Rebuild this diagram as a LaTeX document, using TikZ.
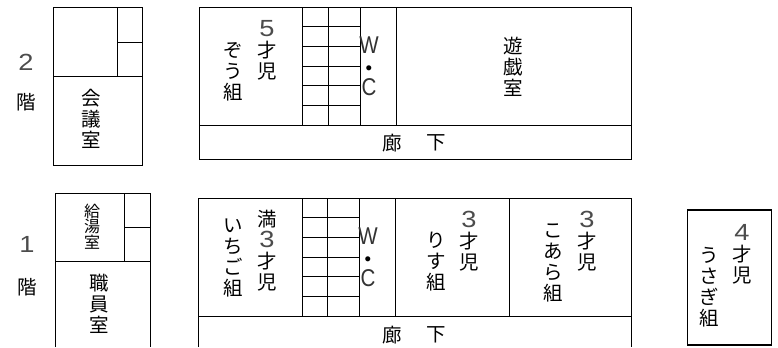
\documentclass[tikz,border=0pt]{standalone}
\usepackage{fontspec}
\setmainfont{Liberation Sans}
\newfontfamily\jpfont{Noto Sans CJK JP}
\usepackage{xcolor}
\newcommand{\widedigit}[1]{\textcolor{black!70}{\scalebox{1.4}[1.2]{\rmfamily #1}}}
\newcommand{\tallchar}[1]{\textcolor{black!80}{\scalebox{1.1}[1.3]{#1}}}
\tikzset{wall/.style = {line width=0.75pt}}
\tikzset{room/.style = {align=center,inner sep=0pt,font=\jpfont\fontsize{14.6}{15.8}\selectfont}}
\tikzset{smallroom/.style = {align=center,inner sep=0pt,font=\jpfont\fontsize{12}{11.8}\selectfont}}
\tikzset{wc/.style = {align=center,inner sep=0pt,font=\fontsize{14}{15.8}\selectfont}}

\begin{document}
\begin{tikzpicture}[x=0.75pt,y=-0.75pt]
            \useasboundingbox (0,0) rectangle (778,347);

            % 2nd floor
            \draw[wall] (53.5,7.5) rectangle (142.5,165.5);
            \draw[wall] (53.5,76.5) -- (142.5,76.5);
            \draw[wall] (117.5,7.5) -- (117.5,76.5);
            \draw[wall] (117.5,42.5) -- (142.5,42.5);

            \draw[wall] (199.5,7.5) rectangle (631.5,159.5);
            \draw[wall] (199.5,125.5) -- (631.5,125.5);
            \foreach \x in {302.5,328.5,360.5,396.5}
                \draw[wall] (\x,7.5) -- (\x,125.5);
            \foreach \y in {26.5,46.5,66.5,85.5,105.5}
                \draw[wall] (302.5,\y) -- (360.5,\y);

            \node[room] (floor2) at (26,62) {\widedigit{2}};
            \node[room] (kai2) at (26.5,102) {階};
            \node[room] (kaigi) at (91.5,119) {会\\議\\室};
            \node[room] (zou5) at (267,50) {\widedigit{5}\\才\\児};
            \node[room] (zou) at (233,72) {ぞ\\う\\組};
            \node[wc] (wc2) at (369,66) {\tallchar{W}\\•\\\tallchar{C}};
            \node[room] (yugi) at (513,67) {遊\\戯\\室};
            \node[room] (ro2) at (392,143) {廊};
            \node[room] (ka2) at (436,143) {下};

            % 1st floor
            \draw[wall] (55.5,347) -- (55.5,193.5) -- (150.5,193.5) -- (150.5,347);
            \draw[wall] (55.5,261.5) -- (150.5,261.5);
            \draw[wall] (124.5,193.5) -- (124.5,261.5);
            \draw[wall] (124.5,227.5) -- (150.5,227.5);

            \draw[wall] (198.5,347) -- (198.5,198.5) -- (631.5,198.5) -- (631.5,347);
            \draw[wall] (198.5,316.5) -- (631.5,316.5);
            \foreach \x in {302.5,327.5,359.5,395.5,509.5}
                \draw[wall] (\x,198.5) -- (\x,316.5);
            \foreach \y in {217.5,237.5,257.5,276.5,296.5}
                \draw[wall] (302.5,\y) -- (359.5,\y);

            \draw[wall,line width=1pt] (687.5,210) rectangle (771.5,345);

            \node[room] (floor1) at (27,244) {\widedigit{1}};
            \node[room] (kai1) at (27,287) {階};
            \node[smallroom] (kyuto) at (92,226.5) {給\\湯\\室};
            \node[room] (shokuin) at (99.5,304) {職\\員\\室};
            \node[room] (ichigo3) at (267,251) {満\\\widedigit{3}\\才\\児};
            \node[room] (ichigo) at (233,258) {い\\ち\\ご\\組};
            \node[wc] (wc1) at (368,257) {\tallchar{W}\\•\\\tallchar{C}};
            \node[room] (risu3) at (469,241) {\widedigit{3}\\才\\児};
            \node[room] (risu) at (436,262) {り\\す\\組};
            \node[room] (koala3) at (587,241) {\widedigit{3}\\才\\児};
            \node[room] (koala) at (553,263) {こ\\あ\\ら\\組};
            \node[room] (usagi4) at (742,254) {\widedigit{4}\\才\\児};
            \node[room] (usagi) at (709,287) {う\\さ\\ぎ\\組};
            \node[room] (ro1) at (392,335) {廊};
            \node[room] (ka1) at (436,335) {下};
        \end{tikzpicture}
\end{document}
